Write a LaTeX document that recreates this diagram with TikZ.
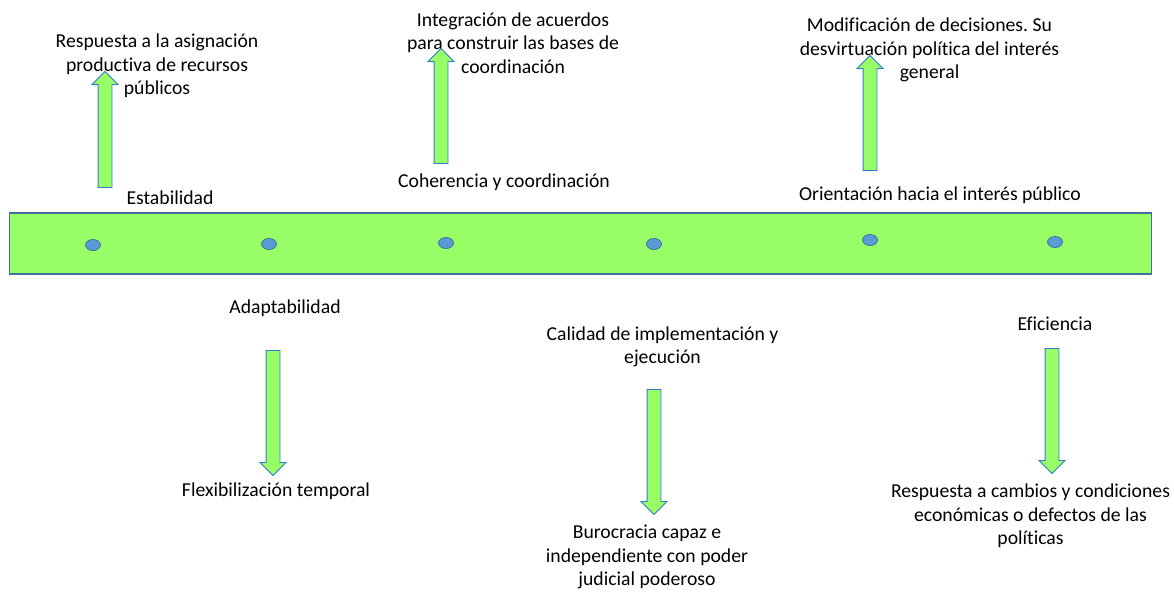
\documentclass[tikz,border=0pt]{standalone}
\usepackage{fontspec}
\setmainfont[Ligatures=NoCommon]{Carlito}
\usepackage{tikz}
\usetikzlibrary{shapes.geometric,shapes.arrows}
\definecolor{barfill}{HTML}{99FF66}
\definecolor{barline}{HTML}{41719C}
\definecolor{dotfill}{HTML}{5B9BD5}
\definecolor{arrowline}{HTML}{2F7BD1}
\frenchspacing
\begin{document}
\begin{tikzpicture}[x=1pt,y=-1pt,
  bar/.style={rectangle,draw=barline,fill=barfill,line width=1.2pt,minimum width=1142pt,minimum height=61pt},
  dot/.style={ellipse,draw=barline,fill=dotfill,line width=0.8pt,minimum width=15pt,minimum height=11pt,inner sep=0pt},
  blockarrow/.style={single arrow,draw=arrowline,fill=barfill,line width=0.9pt,inner sep=0pt,inner ysep=6.5pt,
    minimum width=25pt,single arrow head extend=6pt,single arrow tip angle=90,shape border uses incircle=false},
  txt/.style={align=center,inner sep=0pt,font=\fontsize{19.7}{23.6}\selectfont}]
\useasboundingbox (0,0) rectangle (1174,592);
\node[bar] (b0) at (580.5,243.5) {};
\node[dot] (d1) at (93,245) {};
\node[dot] (d2) at (269,244) {};
\node[dot] (d3) at (446,243) {};
\node[dot] (d4) at (654,244) {};
\node[dot] (d5) at (870,240) {};
\node[dot] (d6) at (1055,242) {};
% upper side
\node[txt] (t1) at (157,66) {Respuesta a la asignación\\productiva de recursos\\públicos};
\node[txt] (t2) at (170,198) {Estabilidad};
\node[txt] (t3) at (513,43) {Integración de acuerdos\\para construir las bases de\\coordinación};
\node[txt] (t4) at (504,182) {Coherencia y coordinación};
\node[txt] (t5) at (929.5,50) {Modificación de decisiones. Su\\desvirtuación política del interés\\general};
\node[txt] (t6) at (940,195) {Orientación hacia el interés público};
\node[blockarrow,rotate=90,minimum height=116pt] (a1) at (105,133) {};
\node[blockarrow,rotate=90,minimum height=115pt] (a2) at (441,109.5) {};
\node[blockarrow,rotate=90,minimum height=115pt] (a3) at (870,116.5) {};
% lower side
\node[txt] (t7) at (285,308) {Adaptabilidad};
\node[txt] (t8) at (276,491) {Flexibilización temporal};
\node[txt] (t9) at (662.5,347) {Calidad de implementación y\\ejecución};
\node[txt] (t10) at (647,557) {Burocracia capaz e\\independiente con poder\\judicial poderoso};
\node[txt] (t11) at (1055,324) {Eficiencia};
\node[txt] (t12) at (1030.5,516) {Respuesta a cambios y condiciones\\económicas o defectos de las\\políticas};
\node[blockarrow,rotate=-90,minimum height=125pt] (a4) at (273,409.5) {};
\node[blockarrow,rotate=-90,minimum height=125pt] (a5) at (654,448.5) {};
\node[blockarrow,rotate=-90,minimum height=125pt] (a6) at (1052,407.5) {};
\end{tikzpicture}
\end{document}
